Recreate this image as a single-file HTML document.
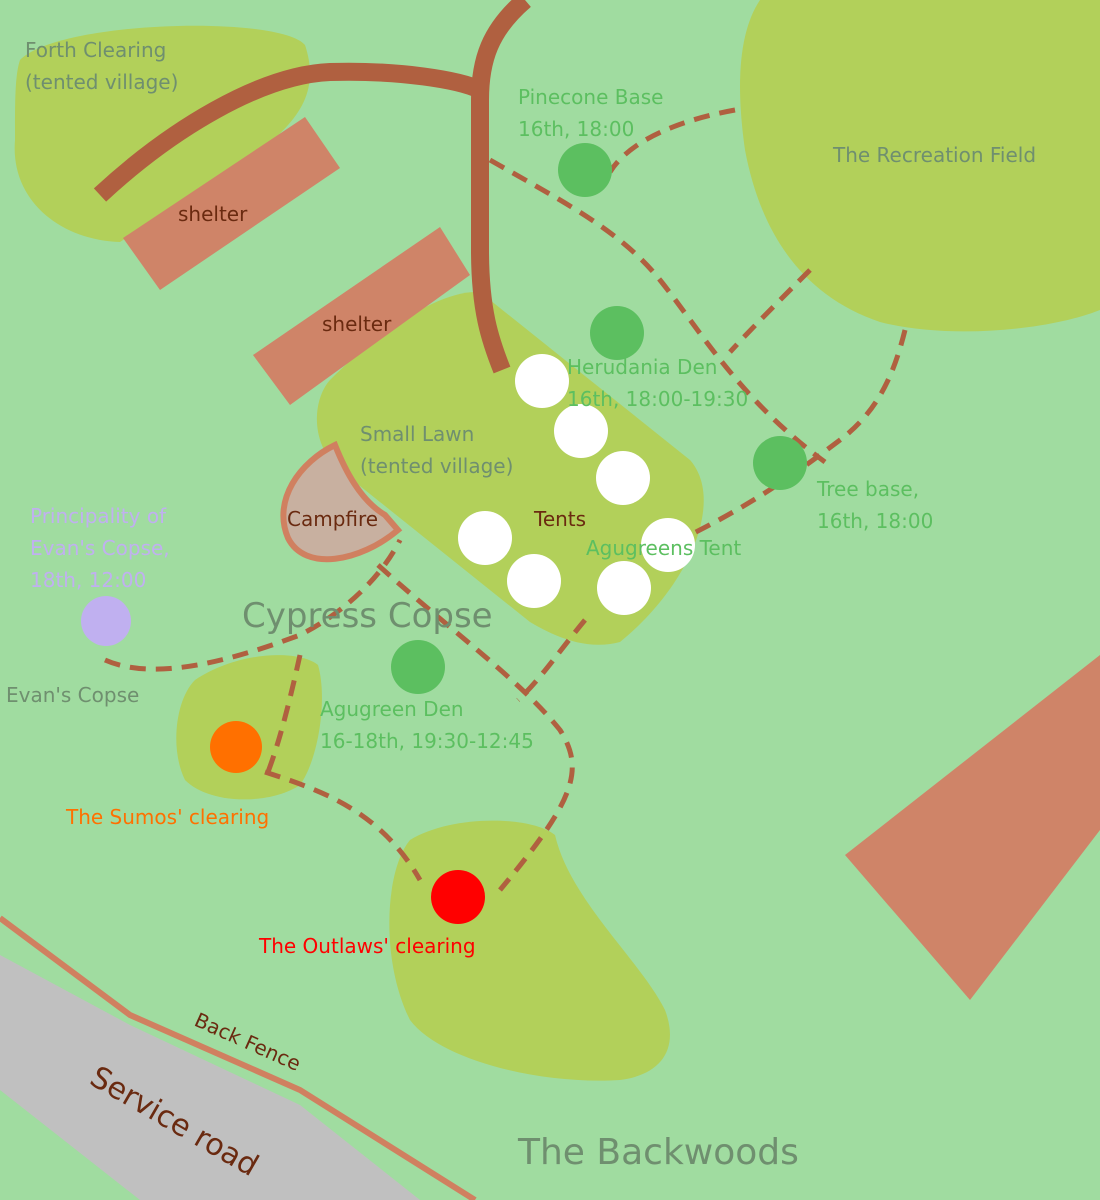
<!DOCTYPE html>
<html><head><meta charset="utf-8"><style>
html,body{margin:0;padding:0;background:#a0dca0;}
svg{display:block;}
text{font-family:"DejaVu Sans","Liberation Sans",sans-serif;font-size:20px;}
.g{fill:#6f8f6f}.gr{fill:#5cbf60}.br{fill:#6a2a10}
</style></head><body>
<svg width="1100" height="1200" viewBox="0 0 1100 1200" xmlns="http://www.w3.org/2000/svg">
<rect width="1100" height="1200" fill="#a0dca0"/>
<path d="M20,60 C60,20 280,15 305,45 C320,90 300,120 260,150 L120,242 C60,240 10,200 15,140 C15,100 15,75 20,60 Z" fill="#b2d05a"/>
<path d="M760,0 L1100,0 L1100,310 C1050,330 950,340 880,322 C800,295 760,230 745,150 C735,80 740,30 760,0 Z" fill="#b2d05a"/>
<path d="M330,380 C380,330 440,290 480,292 L690,460 C725,500 690,585 620,642 C590,650 560,640 530,622 L340,470 C310,445 312,400 330,380 Z" fill="#b2d05a"/>
<path d="M195,680 C240,650 300,650 318,665 C328,700 318,760 300,785 C270,805 210,805 185,780 C170,750 175,700 195,680 Z" fill="#b2d05a"/>
<path d="M410,840 C450,815 530,815 555,835 C570,900 640,960 665,1010 C680,1050 660,1075 620,1080 C540,1085 440,1060 410,1020 C380,960 385,870 410,840 Z" fill="#b2d05a"/>
<polygon points="123,238 305,117 340,168 160,290" fill="#cf8468"/>
<polygon points="253,355 440,227 470,275 290,405" fill="#cf8468"/>
<polygon points="845,855 1100,655 1100,830 970,1000" fill="#cf8468"/>
<path d="M335,445 C300,462 272,500 288,538 C305,572 360,562 398,530 L385,515 C360,500 345,470 335,445 Z" fill="#c8b0a0" stroke="#d08060" stroke-width="6"/>
<polygon points="0,955 130,1025 300,1105 420,1200 140,1200 0,1090" fill="#c0c0c0"/>
<polyline points="0,918 130,1015 300,1090 475,1200" fill="none" stroke="#d08060" stroke-width="6"/>
<path d="M100,195 C170,130 260,75 330,72 C400,70 460,80 480,90" fill="none" stroke="#b06040" stroke-width="18"/>
<path d="M525,0 C490,30 480,60 480,100 L480,250 C480,310 490,340 502,370" fill="none" stroke="#b06040" stroke-width="18"/>
<g fill="none" stroke="#b06040" stroke-width="5" stroke-dasharray="16,10">
<path d="M490,160 C560,200 620,230 660,280 C700,330 740,400 825,462"/>
<path d="M735,110 C680,120 630,140 610,172"/>
<path d="M810,270 C780,300 750,330 730,352"/>
<path d="M905,330 C895,370 880,410 840,440 C800,470 760,500 690,535"/>
<path d="M105,660 C150,680 220,665 300,635 C340,615 380,580 400,540"/>
<path d="M300,655 C290,700 280,740 268,772"/>
<path d="M265,772 C320,790 380,810 420,880"/>
<path d="M378,565 C450,630 520,680 560,730 C585,770 575,800 500,890"/>
<path d="M585,620 C560,650 540,680 518,700"/>
</g>
<g fill="#5cbf60">
<circle cx="585" cy="170" r="27"/><circle cx="617" cy="333" r="27"/>
<circle cx="780" cy="463" r="27"/><circle cx="418" cy="667" r="27"/>
</g>
<circle cx="106" cy="621" r="25" fill="#c0b0f0"/>
<circle cx="236" cy="747" r="26" fill="#ff7000"/>
<circle cx="458" cy="897" r="27" fill="#ff0000"/>
<g fill="#ffffff">
<circle cx="542" cy="381" r="27"/><circle cx="581" cy="431" r="27"/><circle cx="623" cy="478" r="27"/>
<circle cx="485" cy="538" r="27"/><circle cx="534" cy="581" r="27"/><circle cx="624" cy="588" r="27"/>
<circle cx="668" cy="545" r="27"/>
</g>
<text class="g" x="25" y="57">Forth Clearing</text>
<text class="g" x="25" y="89">(tented village)</text>
<text class="gr" x="518" y="104">Pinecone Base</text>
<text class="gr" x="518" y="136">16th, 18:00</text>
<text class="g" x="833" y="162">The Recreation Field</text>
<text class="br" x="178" y="221">shelter</text>
<text class="br" x="322" y="331">shelter</text>
<text class="gr" x="567" y="374">Herudania Den</text>
<text class="gr" x="567" y="406">16th, 18:00-19:30</text>
<text class="g" x="360" y="441">Small Lawn</text>
<text class="g" x="360" y="473">(tented village)</text>
<text class="gr" x="817" y="496">Tree base,</text>
<text class="gr" x="817" y="528">16th, 18:00</text>
<text class="br" x="287" y="526">Campfire</text>
<text class="br" x="534" y="526">Tents</text>
<text class="gr" x="586" y="555">Agugreens Tent</text>
<text x="30" y="523" fill="#c0b0f0">Principality of</text>
<text x="30" y="555" fill="#c0b0f0">Evan's Copse,</text>
<text x="30" y="587" fill="#c0b0f0">18th, 12:00</text>
<text class="g" x="242" y="627" style="font-size:34px">Cypress Copse</text>
<text class="g" x="6" y="702">Evan's Copse</text>
<text class="gr" x="320" y="716">Agugreen Den</text>
<text class="gr" x="320" y="748">16-18th, 19:30-12:45</text>
<text x="66" y="824" fill="#ff7000">The Sumos' clearing</text>
<text x="259" y="953" fill="#ff0000">The Outlaws' clearing</text>
<text class="br" transform="translate(193,1025) rotate(24)">Back Fence</text>
<text class="br" transform="translate(88,1083) rotate(30)" style="font-size:30px">Service road</text>
<text class="g" x="518" y="1164" style="font-size:36px">The Backwoods</text>
</svg>
</body></html>
